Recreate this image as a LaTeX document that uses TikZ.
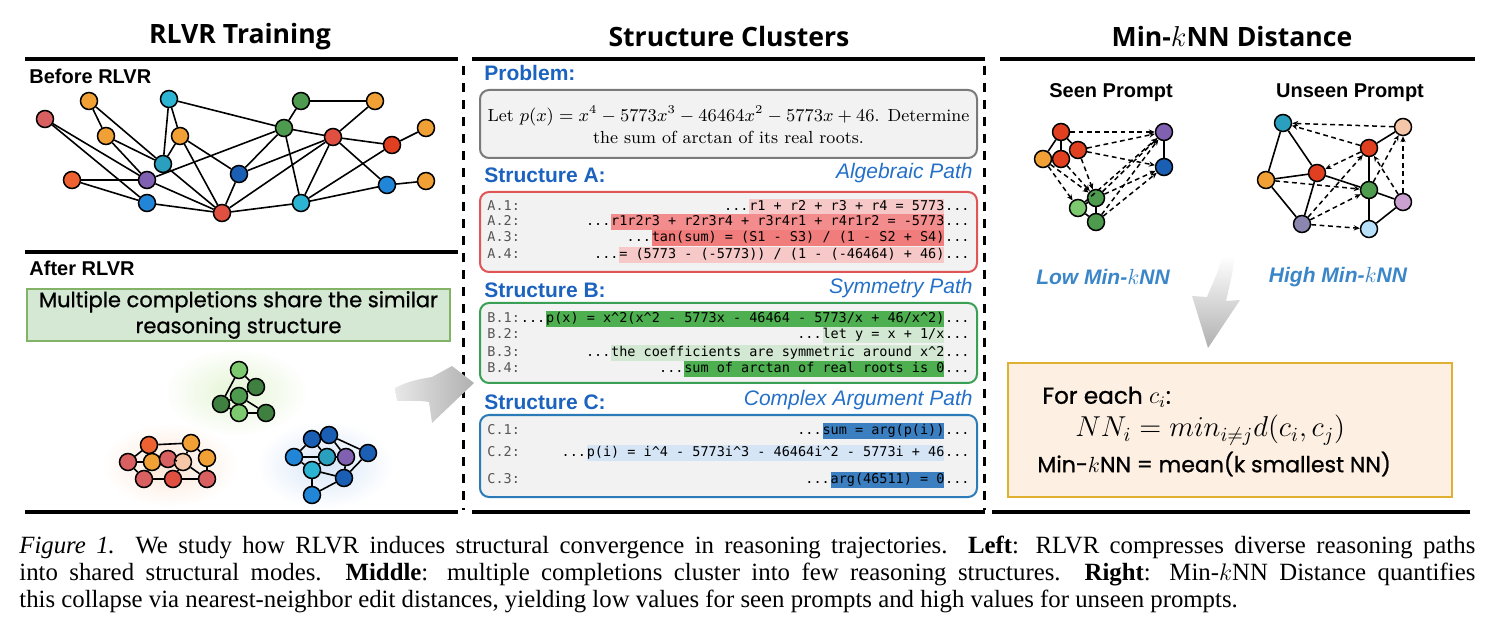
\documentclass[tikz,border=0pt]{standalone}
\usepackage{fontspec}
\setsansfont{Liberation Sans}
\setmonofont{DejaVu Sans Mono}
\newfontfamily\headfont{Open Sans}
\newfontfamily\popfont[FakeBold=0.9]{Poppins}
\newfontfamily\capfont{Liberation Serif}
\usetikzlibrary{arrows.meta}
\definecolor{sblue}{HTML}{1B63BE}
\definecolor{pathblue}{HTML}{2470C8}
\definecolor{lowblue}{HTML}{3A86C8}
\definecolor{boxgray}{HTML}{F2F2F2}
\definecolor{boxbd}{HTML}{7A7A7A}
\definecolor{redbd}{HTML}{E05555}
\definecolor{greenbd}{HTML}{3AA055}
\definecolor{bluebd}{HTML}{2A7BB8}
\definecolor{hlRedL}{HTML}{F6C8C8}
\definecolor{hlRed}{HTML}{F38C8C}
\definecolor{hlRedD}{HTML}{F07C7C}
\definecolor{hlGreen}{HTML}{4DAF4F}
\definecolor{hlGreenL}{HTML}{D3E8D3}
\definecolor{hlBlue}{HTML}{3B7FC0}
\definecolor{hlBlueL}{HTML}{D5E5F5}
\definecolor{lblgray}{HTML}{555555}
\definecolor{gboxfill}{HTML}{D5E8D4}
\definecolor{gboxbd}{HTML}{82B366}
\definecolor{oboxfill}{HTML}{FDF0E3}
\definecolor{oboxbd}{HTML}{E0B030}
\definecolor{cRed}{HTML}{D96060}
\definecolor{cOrange}{HTML}{F0A035}
\definecolor{cCyan}{HTML}{2DB4D2}
\definecolor{cGreen}{HTML}{4E9A4E}
\definecolor{cRedO}{HTML}{E04020}
\definecolor{cTeal}{HTML}{2AA0BE}
\definecolor{cOrRed}{HTML}{EE6232}
\definecolor{cPurple}{HTML}{8060B0}
\definecolor{cDBlue}{HTML}{1A5FB4}
\definecolor{cBlue}{HTML}{2185D8}
\definecolor{cRed2}{HTML}{E05040}
\definecolor{cLGreen}{HTML}{7CC96F}
\definecolor{cDGreen}{HTML}{3F7F3F}
\definecolor{cPeach}{HTML}{F5C6A8}
\definecolor{cLav}{HTML}{C9A0D0}
\definecolor{cGrayP}{HTML}{8A86B0}
\definecolor{cLBlue}{HTML}{B8E0F8}
\definecolor{glowG}{HTML}{E4F4D4}
\definecolor{glowO}{HTML}{FCE6D6}
\definecolor{glowB}{HTML}{D8E6F8}
\newcommand\cx{\textasciicircum}
\newcommand\mline[6]{%
  \node[mono, anchor=east] (#1e) at (970,#2) {...};
  \node[mono, fill=#5, inner ysep=0.5pt, anchor=east] (#1h) at (#1e.west) {#6};
  \node[mono, anchor=east] (#1s) at (#1h.west) {#4};
  \node[mono, anchor=west, text=lblgray] (#1l) at (487,#2) {#3};
}
\begin{document}
\begin{tikzpicture}[x=0.5pt,y=-0.5pt,
  hdr/.style={font=\headfont\bfseries\fontsize{13.3}{16}\selectfont, inner sep=0pt},
  hrule/.style={line width=1.6pt},
  vsepline/.style={line width=1.5pt, dash pattern=on 4.5pt off 4pt},
  subtitle/.style={font=\sffamily\bfseries\fontsize{10}{12}\selectfont, inner sep=0pt},
  slabel/.style={font=\sffamily\bfseries\fontsize{10.5}{12}\selectfont, text=sblue, inner sep=0pt},
  plabel/.style={font=\sffamily\itshape\fontsize{10.5}{12}\selectfont, text=pathblue, inner sep=0pt},
  mono/.style={font=\ttfamily\fontsize{6.75}{8}\selectfont, inner sep=0pt, text height=5.2pt, text depth=1.6pt},
  tbox/.style={draw=#1, fill=boxgray, line width=1pt, rounded corners=4.5pt, inner sep=0pt, minimum width=248.5pt},
  gn/.style={circle, draw=black, line width=0.75pt, fill=#1, minimum size=8.5pt, inner sep=0pt},
  lnk/.style={line width=0.8pt},
  dlnk/.style={line width=0.75pt, dash pattern=on 2.4pt off 1.8pt, -{Stealth[length=3pt,width=2.6pt]}},
  poptext/.style={font=\popfont\fontsize{11}{13}\selectfont, inner sep=0pt},
  knn/.style={font=\sffamily\bfseries\itshape\fontsize{10.5}{12}\selectfont, text=lowblue, inner sep=0pt},
  captext/.style={font=\capfont\fontsize{12.4}{13.5}\selectfont, inner sep=0pt, text width=728pt, align=justify}
]
\useasboundingbox (0,0) rectangle (1491,640);

% ---------- headers and rules ----------
\node[hdr] (h1) at (240,37) {RLVR Training};
\node[hdr] (h2) at (729,37) {Structure Clusters};
\node[hdr] (h3) at (1232,37) {Min-$k$NN Distance};
\draw[hrule] (25,59) -- (458,59);
\draw[hrule] (472,59) -- (985,59);
\draw[hrule] (1000,59) -- (1475,59);
\draw[hrule] (25,252) -- (458,252);
\draw[hrule] (25,512) -- (458,512);
\draw[hrule] (472,512) -- (985,512);
\draw[hrule] (992,512) -- (1470,512);
\draw[vsepline] (463,66) -- (463,510);
\draw[vsepline] (984,66) -- (984,510);

% ---------- left: before RLVR ----------
\node[subtitle, anchor=west] (before) at (29,76) {Before RLVR};
\node[gn=cRed] (n1) at (45,119) {};
\node[gn=cOrange] (n2) at (89,101) {};
\node[gn=cCyan] (n3) at (169,99) {};
\node[gn=cOrange] (n4) at (106,136) {};
\node[gn=cOrange] (n5) at (180,136) {};
\node[gn=cGreen] (n6) at (301,101) {};
\node[gn=cOrange] (n7) at (375,101) {};
\node[gn=cGreen] (n8) at (284,128) {};
\node[gn=cRed2] (n9) at (333,137) {};
\node[gn=cOrange] (n10) at (426,128) {};
\node[gn=cRedO] (n11) at (392,145) {};
\node[gn=cTeal] (n12) at (163,164) {};
\node[gn=cOrRed] (n13) at (72,180) {};
\node[gn=cPurple] (n14) at (147,180) {};
\node[gn=cDBlue] (n15) at (239,174) {};
\node[gn=cBlue] (n16) at (147,203) {};
\node[gn=cRed2] (n17) at (222,213) {};
\node[gn=cCyan] (n18) at (301,203) {};
\node[gn=cBlue] (n19) at (387,185) {};
\node[gn=cOrange] (n20) at (426,181) {};
\foreach \a/\b in {n1/n14,n1/n16,n2/n4,n2/n12,n3/n12,n3/n5,n3/n8,n4/n14,n4/n12,
  n5/n12,n5/n15,n5/n17,n12/n17,n13/n14,n13/n16,n14/n8,n14/n17,n16/n17,
  n15/n17,n15/n8,n15/n9,n17/n9,n17/n18,n8/n6,n8/n9,n8/n18,n6/n7,n9/n7,
  n9/n11,n9/n19,n9/n18,n11/n10,n18/n11,n18/n19,n19/n20}
  \draw[lnk] (\a) -- (\b);

% ---------- left: after RLVR ----------
\node[subtitle, anchor=west] (after) at (29,268) {After RLVR};
\node[draw=gboxbd, fill=gboxfill, line width=0.9pt, minimum width=211.5pt, minimum height=26pt,
  align=center, font=\popfont\fontsize{10.5}{13}\selectfont, inner sep=0pt] (gbox) at (238.5,315)
  {Multiple completions share the similar\\reasoning structure};

\shade[inner color=glowG, outer color=white] (236,392) ellipse [x radius=72, y radius=44];
\shade[inner color=glowO, outer color=white] (170,465) ellipse [x radius=68, y radius=42];
\shade[inner color=glowB, outer color=white] (325,465) ellipse [x radius=68, y radius=44];

\node[gn=cLGreen] (g1) at (239,370) {};
\node[gn=cDGreen] (g2) at (256,387) {};
\node[gn=cGreen] (g3) at (239,396) {};
\node[gn=cDGreen] (g4) at (221,404) {};
\node[gn=cLGreen] (g5) at (239,413) {};
\node[gn=cDGreen] (g6) at (266,413) {};
\foreach \a/\b in {g1/g2,g1/g4,g2/g3,g3/g4,g3/g5,g4/g5,g3/g6,g5/g6}
  \draw[lnk] (\a) -- (\b);

\node[gn=cOrRed] (o1) at (149,445) {};
\node[gn=cOrange] (o2) at (191,443) {};
\node[gn=cRed] (o3) at (128,462) {};
\node[gn=cOrange] (o4) at (152,462) {};
\node[gn=cRed] (o5) at (168,459) {};
\node[gn=cPeach] (o6) at (183,462) {};
\node[gn=cOrange] (o7) at (207,458) {};
\node[gn=cRed] (o8) at (144,479) {};
\node[gn=cRed2] (o9) at (173,479) {};
\node[gn=cRed] (o10) at (207,479) {};
\foreach \a/\b in {o1/o2,o1/o4,o3/o1,o3/o8,o3/o4,o5/o6,o2/o6,o2/o7,o7/o10,o8/o9,o9/o10,o4/o8,o6/o9,o6/o10}
  \draw[lnk] (\a) -- (\b);

\node[gn=cDBlue] (b1) at (312,439) {};
\node[gn=cDBlue] (b2) at (329,435) {};
\node[gn=cBlue] (b3) at (294,457) {};
\node[gn=cTeal] (b4) at (327,457) {};
\node[gn=cPurple] (b5) at (346,457) {};
\node[gn=cDBlue] (b6) at (368,453) {};
\node[gn=cCyan] (b7) at (312,470) {};
\node[gn=cDBlue] (b8) at (344,478) {};
\node[gn=cBlue] (b9) at (312,495) {};
\foreach \a/\b in {b1/b2,b1/b3,b1/b4,b2/b6,b2/b5,b3/b4,b3/b7,b4/b7,b4/b5,b5/b8,b6/b8,b7/b8,b7/b9,b9/b8}
  \draw[lnk] (\a) -- (\b);

% gray arrow to middle
\shade[left color=gray!18, right color=gray!62]
  (395,388) .. controls (408,381) and (420,379) .. (432,377) -- (452,366) -- (474,383)
  -- (432,423) -- (429,402) .. controls (417,400) and (406,401) .. (397,401) -- cycle;

% ---------- middle ----------
\node[slabel, anchor=west] (pl) at (484,73) {Problem:};
\node[tbox=boxbd, minimum height=34pt] (prob) at (728.5,124) {};
\node[font=\fontsize{8.75}{11}\selectfont, align=center, inner sep=0pt] (probt) at (728.5,125)
  {Let $p(x)=x^4-5773x^3-46464x^2-5773x+46$. Determine\\the sum of arctan of its real roots.};

\node[slabel, anchor=west] (sa) at (484,175) {Structure A:};
\node[plabel, anchor=east] (pa) at (973,173) {Algebraic Path};
\node[tbox=redbd, minimum height=40pt] (boxa) at (728.5,232) {};
\mline{a1}{207}{A.1:}{...}{hlRedL}{r1 + r2 + r3 + r4 = 5773}
\mline{a2}{222}{A.2:}{...}{hlRed}{r1r2r3 + r2r3r4 + r3r4r1 + r4r1r2 = -5773}
\mline{a3}{238}{A.3:}{...}{hlRedD}{tan(sum) = (S1 - S3) / (1 - S2 + S4)}
\mline{a4}{255}{A.4:}{...}{hlRedL}{= (5773 - (-5773)) / (1 - (-46464) + 46)}

\node[slabel, anchor=west] (sb) at (484,290) {Structure B:};
\node[plabel, anchor=east] (pb) at (973,288) {Symmetry Path};
\node[tbox=greenbd, minimum height=40pt] (boxb) at (728.5,343) {};
\mline{b1}{319}{B.1:}{...}{hlGreen}{p(x) = x\cx2(x\cx2 - 5773x - 46464 - 5773/x + 46/x\cx2)}
\mline{b2}{335}{B.2:}{...}{hlGreenL}{let y = x + 1/x}
\mline{b3}{353}{B.3:}{...}{hlGreenL}{the coefficients are symmetric around x\cx2}
\mline{b4}{369}{B.4:}{...}{hlGreen}{sum of arctan of real roots is 0}

\node[slabel, anchor=west] (sc) at (484,402) {Structure C:};
\node[plabel, anchor=east] (pc) at (973,400) {Complex Argument Path};
\node[tbox=bluebd, minimum height=41pt] (boxc) at (728.5,456) {};
\mline{c1}{431}{C.1:}{...}{hlBlue}{sum = arg(p(i))}
\mline{c2}{453}{C.2:}{...}{hlBlueL}{p(i) = i\cx4 - 5773i\cx3 - 46464i\cx2 - 5773i + 46}
\mline{c3}{480}{C.3:}{...}{hlBlue}{arg(46511) = 0}

% ---------- right ----------
\node[subtitle] (seen) at (1111,93) {Seen Prompt};
\node[subtitle] (unseen) at (1350,93) {Unseen Prompt};

\node[gn=cRedO] (s1) at (1061,132) {};
\node[gn=cRedO] (s2) at (1078,150) {};
\node[gn=cOrange] (s3) at (1043,159) {};
\node[gn=cRedO] (s4) at (1061,159) {};
\node[gn=cPurple] (s5) at (1164,132) {};
\node[gn=cDBlue] (s6) at (1164,167) {};
\node[gn=cGreen] (s7) at (1096,198) {};
\node[gn=cLGreen] (s8) at (1078,208) {};
\node[gn=cGreen] (s9) at (1096,222) {};
\foreach \a/\b in {s1/s3,s1/s4,s1/s2,s5/s6,s7/s9,s7/s8,s8/s9}
  \draw[lnk] (\a) -- (\b);
\foreach \a/\b in {s1/s5,s2/s5,s2/s6,s3/s8,s3/s7,s4/s7,s2/s7,s7/s5,s7/s6,s9/s5,s9/s6,s8/s5}
  \draw[dlnk] (\a) -- (\b);

\node[gn=cTeal] (u1) at (1283,123) {};
\node[gn=cPeach] (u2) at (1403,127) {};
\node[gn=cRedO] (u3) at (1369,148) {};
\node[gn=cOrange] (u4) at (1266,180) {};
\node[gn=cRedO] (u5) at (1317,173) {};
\node[gn=cGreen] (u6) at (1369,190) {};
\node[gn=cLav] (u7) at (1403,202) {};
\node[gn=cGrayP] (u8) at (1302,224) {};
\node[gn=cLBlue] (u9) at (1369,229) {};
\foreach \a/\b in {u1/u4,u1/u5,u4/u5,u5/u6,u4/u8,u5/u8,u3/u6,u3/u2,u6/u9,u6/u7,u7/u9}
  \draw[lnk] (\a) -- (\b);
\foreach \a/\b in {u2/u1,u3/u1,u3/u5,u8/u3,u8/u6,u8/u9,u6/u2,u7/u3,u7/u2,u4/u6}
  \draw[dlnk] (\a) -- (\b);

\node[knn] (low) at (1103,277) {Low Min-$k$NN};
\node[knn] (high) at (1338,277) {High Min-$k$NN};

\shade[top color=white, bottom color=gray!62]
  (1222,256) .. controls (1218,274) and (1211,286) .. (1207,297) -- (1192,296) -- (1208,348)
  -- (1240,300) -- (1226,301) .. controls (1229,288) and (1233,272) .. (1235,256) -- cycle;

\node[draw=oboxbd, fill=oboxfill, line width=0.9pt, minimum width=222pt, minimum height=67pt, inner sep=0pt] (obox) at (1230,430) {};
\node[poptext, anchor=west, font=\popfont\fontsize{11.6}{14}\selectfont] (fe) at (1042,397) {For each $c_i$:};
\node[anchor=west, inner sep=0pt, font=\fontsize{14}{16}\selectfont] (nn) at (1075,430) {$NN_i = min_{i\neq j}d(c_i,c_j)$};
\node[poptext, anchor=west] (mk) at (1037,464) {Min-$k$NN = mean(k smallest NN)};

% ---------- caption ----------
\node[captext, anchor=north west] (cap) at (19,536) {\textit{Figure 1.} We study how RLVR induces structural convergence in reasoning trajectories. \textbf{Left}: RLVR compresses diverse reasoning paths\linebreak into shared structural modes. \textbf{Middle}: multiple completions cluster into few reasoning structures. \textbf{Right}: Min-$k$NN Distance quantifies\linebreak this collapse via nearest-neighbor edit distances, yielding low values for seen prompts and high values for unseen prompts.};
\end{tikzpicture}
\end{document}
